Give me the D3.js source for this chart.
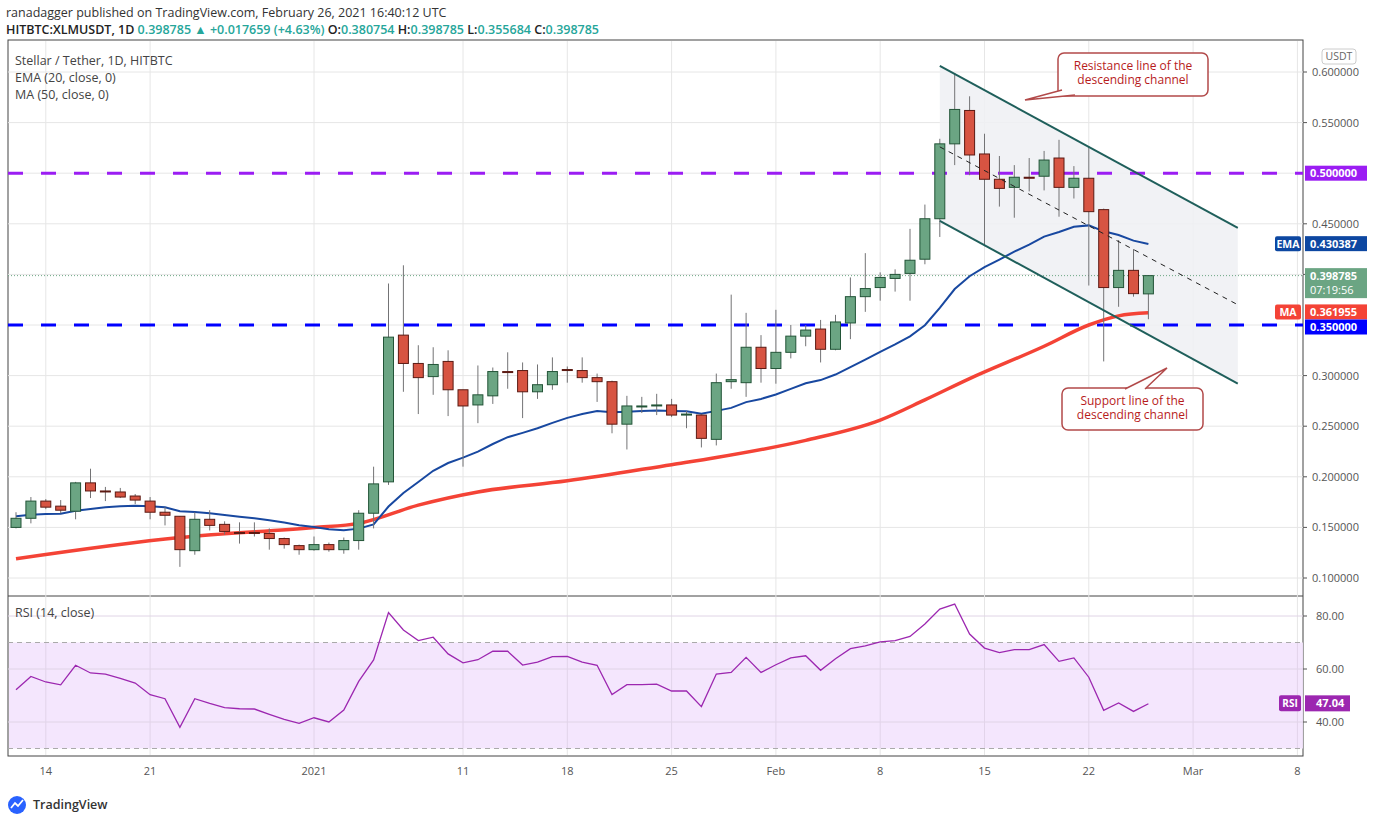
<!DOCTYPE html>
<html lang="en">
<head>
<meta charset="UTF-8">
<title>XLMUSDT</title>
<script src="https://cdn.jsdelivr.net/npm/d3@7"></script>
<style>
  body{margin:0;background:#fff;font-family:"Open Sans","Noto Sans",sans-serif;}
  text{font-family:"Open Sans","Noto Sans",sans-serif;}
</style>
</head>
<body>
<svg id="chart" width="1376" height="823"></svg>
<script>
// daily candles, Dec 12 2020 .. Feb 26 2021
const startDate = "2020-12-12"
const opens  = [0.150,0.159,0.176,0.171,0.166,0.194,0.186,0.185,0.181,0.176,0.165,0.161,0.127,0.158,0.153,0.145,0.145,0.144,0.139,0.132,
  0.128,0.133,0.128,0.137,0.164,0.195,0.340,0.312,0.299,0.314,0.286,0.271,0.280,0.304,0.305,0.284,0.291,0.306,0.305,0.298,
  0.294,0.252,0.269,0.270,0.271,0.261,0.261,0.237,0.294,0.293,0.328,0.307,0.323,0.339,0.346,0.326,0.352,0.378,0.387,0.396,
  0.401,0.415,0.455,0.529,0.562,0.519,0.494,0.486,0.496,0.497,0.515,0.486,0.495,0.464,0.387,0.404,0.380754]
const highs  = [0.165,0.180,0.178,0.177,0.195,0.208,0.190,0.189,0.183,0.180,0.170,0.161,0.165,0.167,0.156,0.155,0.155,0.149,0.140,0.133,
  0.141,0.135,0.140,0.167,0.210,0.391,0.409,0.330,0.328,0.325,0.286,0.310,0.308,0.323,0.313,0.311,0.318,0.309,0.318,0.302,
  0.295,0.280,0.279,0.282,0.277,0.265,0.262,0.302,0.380,0.362,0.340,0.365,0.350,0.350,0.355,0.360,0.397,0.421,0.402,0.405,
  0.445,0.469,0.534,0.599,0.576,0.539,0.517,0.508,0.515,0.522,0.533,0.507,0.526,0.465,0.434,0.425,0.398785]
const lows   = [0.149,0.154,0.168,0.164,0.158,0.179,0.176,0.179,0.173,0.158,0.152,0.111,0.123,0.147,0.143,0.134,0.141,0.128,0.129,0.123,
  0.127,0.126,0.124,0.128,0.149,0.192,0.284,0.262,0.281,0.260,0.210,0.253,0.272,0.287,0.258,0.277,0.286,0.293,0.293,0.274,
  0.243,0.227,0.263,0.261,0.259,0.248,0.229,0.231,0.287,0.279,0.293,0.292,0.317,0.329,0.313,0.325,0.336,0.363,0.374,0.383,
  0.374,0.410,0.437,0.508,0.498,0.428,0.467,0.456,0.482,0.483,0.457,0.475,0.389,0.314,0.368,0.378,0.355684]
const closes = [0.159,0.176,0.170,0.167,0.194,0.186,0.185,0.180,0.177,0.165,0.162,0.128,0.158,0.152,0.146,0.144,0.144,0.139,0.133,0.128,
  0.133,0.128,0.137,0.164,0.193,0.338,0.312,0.298,0.311,0.286,0.270,0.281,0.304,0.303,0.284,0.291,0.304,0.305,0.298,0.294,
  0.252,0.270,0.270,0.271,0.261,0.262,0.238,0.293,0.296,0.328,0.307,0.323,0.339,0.345,0.326,0.353,0.378,0.386,0.397,0.400,
  0.414,0.455,0.529,0.563,0.518,0.494,0.485,0.496,0.495,0.513,0.486,0.495,0.462,0.387,0.404,0.381,0.398785]
const rsi = [52.2,57.2,55.1,54.0,61.4,58.5,58.1,56.5,54.7,50.3,48.8,38.0,48.8,47.0,45.4,45.0,44.9,42.9,41.0,39.5,
  41.6,40.0,44.5,55.3,63.4,81.3,74.7,70.7,72.0,65.7,62.3,63.5,66.7,66.7,61.5,62.6,64.7,64.8,62.6,61.4,
  50.4,54.1,54.1,54.3,51.7,51.7,45.8,58.1,58.7,64.4,58.7,61.6,64.2,65.0,59.5,63.9,67.7,68.7,70.2,70.7,
  72.3,77.0,82.6,84.5,73.2,67.9,66.2,67.3,67.3,69.2,62.9,64.2,56.9,44.4,47.2,44.0,46.9]
// 50-day MA at some dates (day index, value)
const maDays   = [0,11,20,23,27,31,37,44,47,53,58,61,64,69,72,74,76]
const maValues = [0.119,0.140,0.150,0.154,0.172,0.185,0.196,0.212,0.219,0.236,0.256,0.276,0.297,0.329,0.350,0.359,0.362]
const emaSeed = 0.161
// last indicator readings shown on the scales
const emaLast = 0.430387, maLast = 0.361955, rsiLast = 47.04, countdown = "07:19:56"
const priceTicks = [0.1,0.15,0.2,0.25,0.3,0.35,0.4,0.45,0.5,0.55,0.6]
const rsiTicks = [40,60,80]
const timeTicks = [["2020-12-14","14"],["2020-12-21","21"],["2021-01-01","2021"],["2021-01-11","11"],["2021-01-18","18"],
  ["2021-01-25","25"],["2021-02-01","Feb"],["2021-02-08","8"],["2021-02-15","15"],["2021-02-22","22"],["2021-03-01","Mar"],["2021-03-08","8"]]
// channel: start and end date, upper, lower, middle
const channelDates = ["2021-02-12","2021-03-04"]
const channelUpper = [0.606,0.446]
const channelLower = [0.453,0.292]
const channelMid   = [0.526,0.370]

const parse = d3.utcParse("%Y-%m-%d")
const day0 = parse(startDate)
const dates = closes.map((c,i) => d3.utcDay.offset(day0, i))

const svg = d3.select("#chart")
const L = 8, R = 1303
const x = d3.scaleUtc().domain([day0, d3.utcDay.offset(day0, 86)]).range([16, 16 + 86*14.9])
const y = d3.scaleLinear().domain([0.1, 0.6]).range([578, 72])
const yr = d3.scaleLinear().domain([40, 80]).range([722, 616])

// panes
svg.append("rect").attr("x",L).attr("y",40).attr("width",R-L).attr("height",716).attr("fill","none").attr("stroke","#444")
svg.append("line").attr("x1",L).attr("x2",R).attr("y1",596).attr("y2",596).attr("stroke","#444")

const grid = svg.append("g").attr("stroke","#e6e6e6")
timeTicks.forEach(t => {
  grid.append("line").attr("x1",x(parse(t[0]))).attr("x2",x(parse(t[0]))).attr("y1",41).attr("y2",755)
})
priceTicks.forEach(p => grid.append("line").attr("x1",L).attr("x2",R).attr("y1",y(p)).attr("y2",y(p)))

// rsi band
svg.append("rect").attr("x",L+1).attr("width",R-L-1).attr("y",yr(70)).attr("height",yr(30)-yr(70)).attr("fill","#f3e3fd").attr("opacity",0.9)
rsiTicks.forEach(p => svg.append("line").attr("x1",L).attr("x2",R).attr("y1",yr(p)).attr("y2",yr(p)).attr("stroke","#e0d4e6"))
timeTicks.forEach(t => svg.append("line").attr("x1",x(parse(t[0]))).attr("x2",x(parse(t[0]))).attr("y1",yr(70)).attr("y2",yr(30)).attr("stroke","#e2d4ea"))
;[70,30].forEach(p => svg.append("line").attr("x1",L).attr("x2",R).attr("y1",yr(p)).attr("y2",yr(p)).attr("stroke","#aaa").attr("stroke-dasharray","5,4"))

// channel
const cd = channelDates.map(parse)
svg.append("path").attr("fill","#eef0f3").attr("opacity",0.85)
  .attr("d",`M${x(cd[0])},${y(channelUpper[0])}L${x(cd[1])},${y(channelUpper[1])}L${x(cd[1])},${y(channelLower[1])}L${x(cd[0])},${y(channelLower[0])}Z`)

// horizontal levels
svg.append("line").attr("x1",L).attr("x2",R).attr("y1",y(0.5)).attr("y2",y(0.5)).attr("stroke","#9b1df3").attr("stroke-width",3).attr("stroke-dasharray","15,18")
svg.append("line").attr("x1",L).attr("x2",R).attr("y1",y(0.35)).attr("y2",y(0.35)).attr("stroke","#0000ff").attr("stroke-width",3).attr("stroke-dasharray","15,18")
// last price
svg.append("line").attr("x1",L).attr("x2",R).attr("y1",y(closes[closes.length-1])).attr("y2",y(closes[closes.length-1])).attr("stroke","#6ba583").attr("stroke-dasharray","1,2")

// MA and EMA
const ma = maDays.map((d,i) => [d3.utcDay.offset(day0,d), maValues[i]])
svg.append("path").datum(ma).attr("fill","none").attr("stroke","#f44336").attr("stroke-width",3.5)
  .attr("d", d3.line().x(d=>x(d[0])).y(d=>y(d[1])).curve(d3.curveMonotoneX))
let e = emaSeed
const ema = closes.map((c,i) => { if (i>0) e = e + (c-e)*2/21; return [dates[i], e] })
svg.append("path").datum(ema).attr("fill","none").attr("stroke","#1848a0").attr("stroke-width",2)
  .attr("d", d3.line().x(d=>x(d[0])).y(d=>y(d[1])))

// candles
const cw = 10
const cg = svg.append("g")
dates.forEach((d,i) => {
  const up = closes[i] >= opens[i]
  const cx = x(d)
  cg.append("line").attr("x1",cx).attr("x2",cx).attr("y1",y(highs[i])).attr("y2",y(lows[i])).attr("stroke","#737375")
  const top = y(Math.max(opens[i],closes[i])), bot = y(Math.min(opens[i],closes[i]))
  cg.append("rect").attr("x",cx-cw/2).attr("width",cw).attr("y",top).attr("height",Math.max(1,bot-top))
    .attr("fill", up ? "#6ba583" : "#d75442").attr("stroke", up ? "#225437" : "#5b1a13")
})

// channel lines
svg.append("line").attr("x1",x(cd[0])).attr("x2",x(cd[1])).attr("y1",y(channelUpper[0])).attr("y2",y(channelUpper[1])).attr("stroke","#1f5f5b").attr("stroke-width",2)
svg.append("line").attr("x1",x(cd[0])).attr("x2",x(cd[1])).attr("y1",y(channelLower[0])).attr("y2",y(channelLower[1])).attr("stroke","#1f5f5b").attr("stroke-width",2)
svg.append("line").attr("x1",x(cd[0])).attr("x2",x(cd[1])).attr("y1",y(channelMid[0])).attr("y2",y(channelMid[1])).attr("stroke","#222").attr("stroke-dasharray","5,5")

// rsi line
svg.append("path").datum(rsi).attr("fill","none").attr("stroke","#9c27b0").attr("stroke-width",1.3)
  .attr("d", d3.line().x((d,i)=>x(dates[i])).y(d=>yr(d)))

// callouts
function callout(bx, by, bw, bh, tip, base, lines) {
  const g = svg.append("g")
  g.append("rect").attr("x",bx).attr("y",by).attr("width",bw).attr("height",bh).attr("rx",6).attr("fill","#fff").attr("stroke","#b24a4a").attr("stroke-width",1.5)
  g.append("path").attr("d",`M${base[0]},${base[1]}L${tip[0]},${tip[1]}L${base[2]},${base[3]}`).attr("fill","#fff").attr("stroke","#b24a4a").attr("stroke-width",1.5)
  const t = g.append("text").attr("text-anchor","middle").attr("font-size",12).attr("fill","#b71c1c")
  lines.forEach((s,i) => t.append("tspan").attr("x",bx+bw/2).attr("y",by+17+i*14).text(s))
}
callout(1058,53,150,43,[1025,100],[1062,90,1075,95],["Resistance line of the","descending channel"])
callout(1062,388,141,42,[1167,368],[1125,389,1145,389],["Support line of the","descending channel"])

// price axis
const ax = svg.append("g").attr("font-size",11).attr("fill","#555")
priceTicks.forEach(p => {
  if (p === 0.5 || p === 0.35) return
  ax.append("line").attr("x1",R).attr("x2",R+4).attr("y1",y(p)).attr("y2",y(p)).attr("stroke","#555")
  ax.append("text").attr("x",1312).attr("y",y(p)+4).text(p.toFixed(6))
})
svg.append("rect").attr("x",1322).attr("y",49).attr("width",34).attr("height",15).attr("rx",3).attr("fill","#fff").attr("stroke","#ccc")
svg.append("text").attr("x",1339).attr("y",60).attr("text-anchor","middle").attr("font-size",10.5).attr("fill","#666").text("USDT")

function tag(v, fill, label, sub, dy) {
  const yy = y(v) + (dy || 0)
  const h = sub ? 30 : 15
  svg.append("rect").attr("x",R+2).attr("y",yy-7.5).attr("width",62).attr("height",h).attr("fill",fill)
  svg.append("text").attr("x",1310).attr("y",yy+4).attr("font-size",11).attr("fill","#fff").attr("font-weight","bold").text(v.toFixed(6))
  if (sub) svg.append("text").attr("x",1310).attr("y",yy+18).attr("font-size",11).attr("fill","#fff").text(sub)
  if (label) {
    svg.append("rect").attr("x",R-28).attr("y",yy-7.5).attr("width",26).attr("height",15).attr("rx",2).attr("fill",fill)
    svg.append("text").attr("x",R-15).attr("y",yy+4).attr("text-anchor","middle").attr("font-size",10.5).attr("fill","#fff").attr("font-weight","bold").text(label)
  }
}
tag(0.5, "#9b1df3")
tag(emaLast, "#0d47a1", "EMA")
tag(closes[closes.length-1], "#6ba583", null, countdown)
tag(maLast, "#f44336", "MA", null, -1)
tag(0.35, "#0000ff", null, null, 2)

// rsi axis
rsiTicks.forEach(p => {
  svg.append("line").attr("x1",R).attr("x2",R+4).attr("y1",yr(p)).attr("y2",yr(p)).attr("stroke","#555")
  svg.append("text").attr("x",1316).attr("y",yr(p)+4).attr("font-size",11).attr("fill","#555").text(p.toFixed(2))
})
svg.append("rect").attr("x",R+2).attr("y",yr(rsiLast)-8).attr("width",45).attr("height",16).attr("fill","#9c27b0")
svg.append("text").attr("x",1316).attr("y",yr(rsiLast)+4).attr("font-size",11).attr("fill","#fff").attr("font-weight","bold").text(d3.format(".2f")(rsiLast))
svg.append("rect").attr("x",R-24).attr("y",yr(rsiLast)-8).attr("width",22).attr("height",16).attr("rx",2).attr("fill","#9c27b0")
svg.append("text").attr("x",R-13).attr("y",yr(rsiLast)+4).attr("text-anchor","middle").attr("font-size",10).attr("fill","#fff").attr("font-weight","bold").text("RSI")

// time axis
timeTicks.forEach(t => {
  svg.append("text").attr("x",x(parse(t[0]))).attr("y",775).attr("text-anchor","middle").attr("font-size",11).attr("fill","#555").text(t[1])
})

// legends
const lg = svg.append("g").attr("font-size",12.5).attr("fill","#444")
lg.append("text").attr("x",15).attr("y",65).text("Stellar / Tether, 1D, HITBTC")
lg.append("text").attr("x",15).attr("y",82).text("EMA (20, close, 0)")
lg.append("text").attr("x",15).attr("y",99).text("MA (50, close, 0)")
lg.append("text").attr("x",15).attr("y",617).text("RSI (14, close)")

// header
svg.append("text").attr("x",6).attr("y",17).attr("font-size",12.5).attr("fill","#333").text("ranadagger published on TradingView.com, February 26, 2021 16:40:12 UTC")
const h2 = svg.append("text").attr("x",6).attr("y",34).attr("font-size",12.5).attr("fill","#222").attr("font-weight","600")
h2.append("tspan").text("HITBTC:XLMUSDT, 1D ")
h2.append("tspan").attr("fill","#26a69a").text("0.398785 ▲ +0.017659 (+4.63%)")
h2.append("tspan").text(" O:")
h2.append("tspan").attr("fill","#26a69a").text("0.380754")
h2.append("tspan").text(" H:")
h2.append("tspan").attr("fill","#26a69a").text("0.398785")
h2.append("tspan").text(" L:")
h2.append("tspan").attr("fill","#26a69a").text("0.355684")
h2.append("tspan").text(" C:")
h2.append("tspan").attr("fill","#26a69a").text("0.398785")

// logo
const lgo = svg.append("g")
lgo.append("circle").attr("cx",17).attr("cy",805).attr("r",9).attr("fill","#2962ff")
lgo.append("path").attr("d","M11,808L15,803L18,806L23,800").attr("fill","none").attr("stroke","#fff").attr("stroke-width",1.8)
lgo.append("text").attr("x",33).attr("y",809).attr("font-size",12.5).attr("fill","#333").attr("font-weight","600").text("TradingView")
</script>
</body>
</html>
